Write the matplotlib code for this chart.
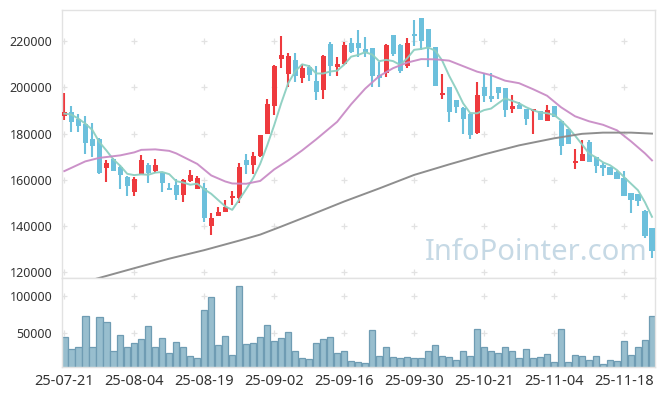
import numpy as np
import pandas as pd
import matplotlib
matplotlib.use('Agg')
import matplotlib.pyplot as plt

plt.rcParams['font.family'] = ['Noto Sans', 'DejaVu Sans']

# trading days (KRX), holidays removed
holidays = ['2025-08-15', '2025-10-03', '2025-10-06', '2025-10-07', '2025-10-08', '2025-10-09']
dates = pd.bdate_range('2025-07-21', '2025-11-24')
dates = dates[~dates.isin(pd.to_datetime(holidays))]

opens = [187700, 189260, 186520, 184040, 177830, 177830, 165040, 169130, 165350, 161300,
         154610, 162610, 166220, 163740, 162740, 156350, 157520, 153480, 159390, 156090,
         156520, 139830, 144170, 145910, 152000, 152000, 168390, 166350, 170260, 180000,
         192000, 212170, 205650, 211870, 203910, 208960, 202740, 199130, 218830, 208830,
         210130, 219260, 219130, 216650, 217220, 205350, 206350, 222740, 218390, 209390,
         223170, 230000, 225350, 217390, 196650, 200260, 194480, 191300, 188700, 180430,
         200000, 196220, 200000, 199830, 190870, 192300, 190870, 189830, 189700, 185480,
         191870, 185350, 181870, 167390, 168090, 176350, 169830, 166220, 165480, 163300,
         160870, 154350, 153610, 146650, 138960]
closes = [189260, 185040, 183300, 175910, 174610, 162870, 167090, 163740, 161870, 157220,
          160130, 168700, 162870, 166520, 158520, 155480, 153480, 159830, 161870, 160870,
          143300, 143610, 146220, 148390, 153170, 165480, 166430, 170260, 179260, 193040,
          209260, 214040, 213610, 205040, 208260, 205350, 198090, 213610, 209390, 210000,
          218390, 215480, 217220, 215480, 204910, 203910, 218390, 214480, 207220, 219130,
          222430, 220260, 217650, 200700, 197650, 189390, 191570, 186520, 179570, 196960,
          196350, 194910, 197650, 190430, 191870, 190870, 186520, 190870, 185780, 190130,
          187220, 174610, 175650, 168090, 171000, 167650, 165910, 165040, 161870, 160430,
          152740, 151430, 150700, 135780, 128960]
highs = [197800, 191870, 188700, 187520, 184780, 178000, 168700, 169400, 166220, 161570,
         161000, 170700, 167220, 169130, 162800, 158520, 160430, 160130, 164040, 161570,
         158700, 145650, 148390, 151300, 155220, 167390, 171300, 172000, 179260, 195220,
         209700, 222300, 214780, 214780, 210000, 209700, 209390, 214040, 219570, 213300,
         219570, 221300, 224910, 222000, 217220, 210870, 218700, 222740, 218700, 221300,
         229260, 230000, 225350, 217390, 205650, 200260, 194480, 191500, 189130, 202430,
         206090, 206350, 200000, 199830, 196960, 193740, 190870, 190870, 189700, 192610,
         191870, 185350, 181870, 173480, 177090, 177090, 169830, 167390, 165480, 163740,
         163740, 154350, 153610, 147090, 138960]
lows = [186090, 180700, 180700, 171300, 169830, 162610, 158960, 163600, 156090, 152870,
        152870, 162600, 158700, 162870, 154610, 155350, 151430, 150260, 158960, 155780,
        141570, 136090, 144170, 145910, 149130, 150000, 162610, 162610, 169830, 180000,
        188260, 208520, 200000, 202170, 201740, 202870, 194780, 195220, 205040, 205040,
        209700, 214780, 213300, 213300, 200000, 200260, 204610, 213740, 206090, 208260,
        218090, 216220, 208960, 200700, 195220, 185040, 189130, 180000, 177830, 180000,
        193740, 193740, 194910, 187220, 189130, 190870, 183610, 180000, 185780, 185480,
        187000, 170870, 175650, 164780, 168090, 167650, 163040, 161570, 161870, 160430,
        152740, 145650, 148520, 134780, 126090]
volumes = [44600, 28400, 32400, 73000, 31100, 71600, 64900, 27000, 47300, 31100,
           36500, 41900, 59500, 31100, 43200, 24300, 37800, 31100, 20300, 17600,
           81100, 98600, 33800, 45900, 21600, 113500, 35100, 36500, 44600, 60800,
           39200, 43200, 51400, 25700, 17600, 16200, 36500, 41900, 44600, 24300,
           25700, 13500, 12200, 10800, 54100, 20300, 32400, 18900, 17600, 18900,
           17600, 17600, 27000, 33800, 20300, 18900, 14900, 27000, 20300, 55400,
           31100, 27000, 24300, 31100, 27000, 17600, 28400, 17600, 18900, 23000,
           12200, 55400, 12200, 21600, 20300, 14900, 20300, 9500, 14900, 13500,
           39200, 21600, 31100, 40500, 73000]

# 5-day MA: first four points, the rest from closes
ma5_head = [188700, 188260, 186520, 184350]
# 20-day and 60-day MA at candle indices
ma20_idx = [0, 3, 5, 8, 10, 11, 13, 15, 16, 18, 19, 21, 23, 24, 26, 28, 30, 32, 34, 36,
            39, 41, 43, 45, 47, 49, 51, 53, 55, 57, 59, 61, 63, 65, 67, 69, 71, 73, 75, 77,
            79, 81, 83, 84]
ma20_val = [163740, 167960, 169480, 170570, 171870, 172960, 173170, 172520, 171430, 168390,
            166870, 161870, 159260, 158390, 158260, 159480, 164480, 168390, 172740, 177520,
            185130, 192740, 199480, 204910, 208390, 210780, 212300, 212220, 211650, 209260,
            206870, 205350, 202960, 201870, 199260, 196430, 191430, 187520, 185350, 183830,
            181430, 176650, 171430, 168390]
ma60_idx = [0, 4, 10, 15, 20, 25, 28, 31, 35, 40, 45, 50, 55, 60, 65, 70, 74, 77, 81, 84]
ma60_val = [113500, 116600, 121650, 125780, 129480, 133610, 136220, 139700, 144480, 150570,
            156220, 162090, 166650, 171000, 174910, 177960, 179910, 180430, 180430, 180000]

opens = np.array(opens)
closes = np.array(closes)
highs = np.array(highs)
lows = np.array(lows)
x = np.arange(len(closes))
ma5 = pd.Series(closes).rolling(5).mean().values
ma5[:4] = ma5_head

up = closes >= opens
red = '#ee3a3e'
blue = '#6cc0dc'
colors = np.where(up, red, blue)

fig = plt.figure(figsize=(6.65, 3.96), dpi=100)
ax = fig.add_axes([62 / 665, 1 - 278 / 396, 593 / 665, 268 / 396])
axv = fig.add_axes([62 / 665, 1 - 367 / 396, 593 / 665, 89 / 396], sharex=ax)

xt = np.arange(0, len(x), 10)
yt = np.arange(120000, 220001, 20000)
vt = [50000, 100000]

gx, gy = np.meshgrid(xt, yt)
ax.scatter(gx.ravel(), gy.ravel(), marker='+', s=16, c='#e2e2e2', lw=0.9, zorder=0)
gx, gy = np.meshgrid(xt, vt)
axv.scatter(gx.ravel(), gy.ravel(), marker='+', s=16, c='#e2e2e2', lw=0.9, zorder=0)

ax.text(0.988, 0.04, 'InfoPointer.com', transform=ax.transAxes, ha='right', va='bottom',
        fontsize=21, color='#c6d9e5', zorder=1)

ax.vlines(x, lows, highs, colors=colors, lw=1.5, zorder=2)
body = np.abs(closes - opens)
body = np.maximum(body, 500)
ax.bar(x, body, bottom=np.minimum(opens, closes), width=0.72, color=colors, lw=0, zorder=3)

ax.plot(x, ma5, color='#8ccfc1', lw=1.4, alpha=0.95, zorder=4)
ax.plot(ma20_idx, ma20_val, color='#c98cc6', lw=1.4, alpha=0.95, zorder=4)
ax.plot(ma60_idx, ma60_val, color='#8e8e8e', lw=1.4, zorder=4)

axv.bar(x, volumes, width=0.92, color='#98bece', edgecolor='#6f9cb3', lw=0.9, zorder=2)

ax.set_xlim(-0.33, 84.43)
ax.set_ylim(117400, 233600)
axv.set_ylim(4900, 124300)

ax.set_yticks(yt)
ax.set_yticklabels([str(v) for v in yt])
axv.set_yticks(vt)
axv.set_yticklabels([str(v) for v in vt])
axv.set_xticks(xt)
axv.set_xticklabels(dates[xt].strftime('%y-%m-%d'))
plt.setp(ax.get_xticklabels(), visible=False)

for a in (ax, axv):
    a.tick_params(length=0, labelsize=9, labelcolor='#333333', pad=7)
    for s in a.spines.values():
        s.set_color('#e2e2e2')
        s.set_linewidth(1.0)
axv.tick_params(axis='x', pad=5, labelsize=10.5)

fig.savefig('out.png', dpi=100)
